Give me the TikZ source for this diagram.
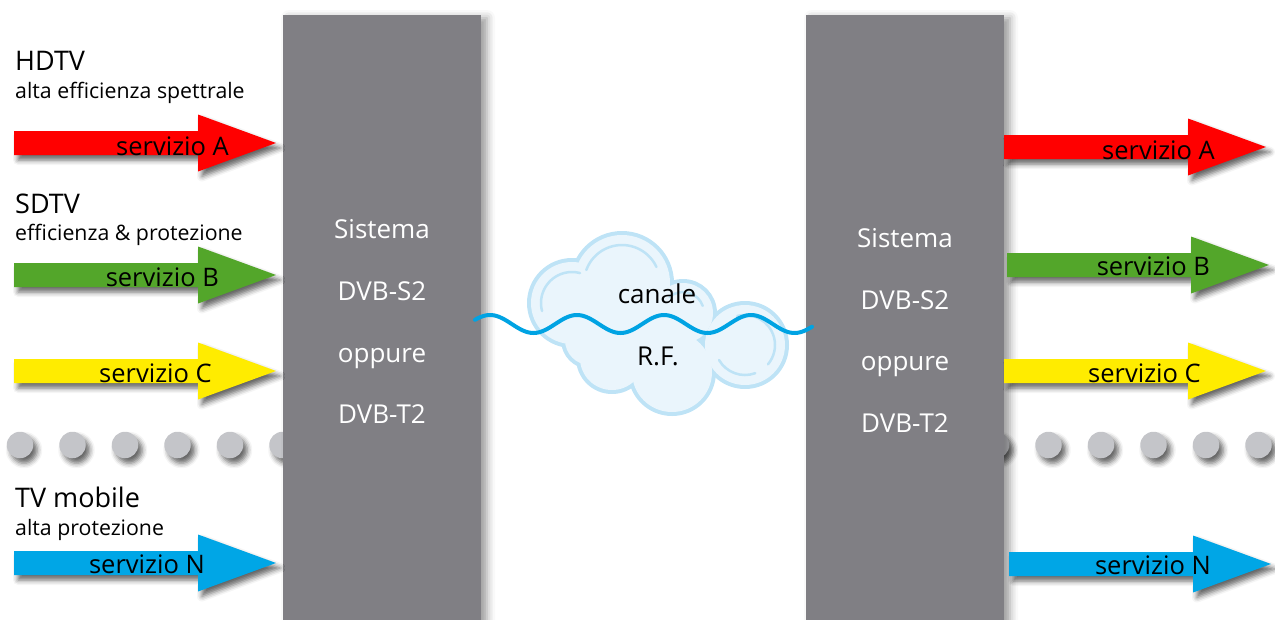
\documentclass[tikz,border=0pt]{standalone}
\usepackage{fontspec}
\setmainfont{Open Sans}
\usetikzlibrary{shadows.blur}

\definecolor{boxgrey}{HTML}{807F84}
\definecolor{dotgrey}{HTML}{C4C5C9}
\definecolor{svcred}{HTML}{FF0000}
\definecolor{svcgreen}{HTML}{53A62A}
\definecolor{svcyellow}{HTML}{FFEC00}
\definecolor{svcblue}{HTML}{00A6E6}
\definecolor{cloudfill}{HTML}{EAF5FC}
\definecolor{cloudline}{HTML}{BEE3F6}
\definecolor{wavecol}{HTML}{00A3E3}

\tikzset{
  softshadow/.style={blur shadow={shadow xshift=4pt, shadow yshift=-5pt,
      shadow blur radius=5pt, shadow opacity=60}},
  sysbox/.style={fill=boxgrey, minimum width=198pt, minimum height=615pt,
      inner sep=0pt, blur shadow={shadow xshift=6pt, shadow yshift=-3pt,
      shadow blur radius=8pt, shadow opacity=40}},
  systext/.style={text=white, font=\fontsize{26}{30}\selectfont, anchor=base, inner sep=0pt},
  svclabel/.style={font=\fontsize{25.5}{29}\selectfont, anchor=base east, inner sep=0pt},
  heading/.style={font=\fontsize{27}{31}\selectfont, anchor=base west, inner sep=0pt},
  subheading/.style={font=\fontsize{21.3}{25}\selectfont, anchor=base west, inner sep=0pt},
  cloudtext/.style={font=\fontsize{26}{30}\selectfont, anchor=base, inner sep=0pt},
  gdot/.style={circle, fill=dotgrey, minimum size=26.5pt, inner sep=0pt, softshadow},
}

% block arrow: left end x, centre line y, fill colour
\newcommand\svcarrow[3]{%
  \fill[#3, softshadow] (#1,#2-12) -- (#1+184,#2-12) -- (#1+184,#2-28.5)
    -- (#1+262,#2) -- (#1+184,#2+28.5) -- (#1+184,#2+12) -- (#1,#2+12) -- cycle;}

\begin{document}
\begin{tikzpicture}[x=1pt, y=-1pt]
\useasboundingbox (0,0) rectangle (1275,619);

% row of dots standing for the further services
\foreach \x [count=\i] in {20,72.5,125,177.5,230,282.5}
  \node[gdot] (dl\i) at (\x,445) {};
\foreach \x [count=\i] in {996,1048.5,1101,1153.5,1206,1258.5}
  \node[gdot] (dr\i) at (\x,445) {};

% transmitting and receiving systems
\node[sysbox] (tx) at (382,322.5) {};
\node[sysbox] (rx) at (905,322.5) {};

\node[systext] (tx1) at (382,238) {Sistema};
\node[systext] (tx2) at (382,300) {DVB-S2};
\node[systext] (tx3) at (382,362) {oppure};
\node[systext] (tx4) at (382,423) {DVB-T2};

\node[systext] (rx1) at (905,247) {Sistema};
\node[systext] (rx2) at (905,309) {DVB-S2};
\node[systext] (rx3) at (905,370) {oppure};
\node[systext] (rx4) at (905,432) {DVB-T2};

% input services
\svcarrow{14}{143}{svcred}
\svcarrow{14}{275}{svcgreen}
\svcarrow{14}{371}{svcyellow}
\svcarrow{14}{563}{svcblue}

\node[svclabel] (inA) at (229,155) {servizio A};
\node[svclabel] (inB) at (219,286) {servizio B};
\node[svclabel] (inC) at (212,382) {servizio C};
\node[svclabel] (inN) at (205,573) {servizio N};

% output services
\svcarrow{1004}{147}{svcred}
\svcarrow{1007}{265}{svcgreen}
\svcarrow{1004}{371}{svcyellow}
\svcarrow{1009}{564}{svcblue}

\node[svclabel] (outA) at (1215,159) {servizio A};
\node[svclabel] (outB) at (1210,275) {servizio B};
\node[svclabel] (outC) at (1201,382) {servizio C};
\node[svclabel] (outN) at (1211,574) {servizio N};

% service classes
\node[heading]    (hd)  at (15,70)  {HDTV};
\node[subheading] (hds) at (15,98)  {alta efficienza spettrale};
\node[heading]    (sd)  at (15,213) {SDTV};
\node[subheading] (sds) at (15,240) {efficienza \& protezione};
\node[heading]    (mb)  at (15,507) {TV mobile};
\node[subheading] (mbs) at (15,535) {alta protezione};

% radio channel cloud
\foreach \cx/\cy/\r in {572/303/41, 622/283/48, 683/313/30, 745/345/40,
                        672/372/40, 612/358/32, 590/340/25, 650/330/45}
  \draw[cloudline, line width=8pt] (\cx,\cy) circle[radius=\r pt];
\foreach \cx/\cy/\r in {572/303/41, 622/283/48, 683/313/30, 745/345/40,
                        672/372/40, 612/358/32, 590/340/25, 650/330/45}
  \fill[cloudfill] (\cx,\cy) circle[radius=\r pt];
\begin{scope}[cloudline, line width=2.5pt, line cap=round]
  \draw (572,303) ++(195:31pt) arc[start angle=195, end angle=75, radius=31pt];
  \draw (622,283) ++(160:38pt) arc[start angle=160, end angle=25, radius=38pt];
  \draw (683,313) ++(130:21pt) arc[start angle=130, end angle=20, radius=21pt];
  \draw (745,345) ++(105:30pt) arc[start angle=105, end angle=-40, radius=30pt];
  \draw (745,345) ++(-70:30pt) arc[start angle=-70, end angle=-150, radius=30pt];
\end{scope}

% carrier wave across the channel
\draw[wavecol, line width=4pt, line cap=round]
  plot[domain=475:812, samples=140, smooth] (\x, {324-9*cos(4.13793*(\x-490))});

\node[cloudtext] (ch1) at (657,303) {canale};
\node[cloudtext] (ch2) at (658,365) {R.F.};
\end{tikzpicture}
\end{document}
